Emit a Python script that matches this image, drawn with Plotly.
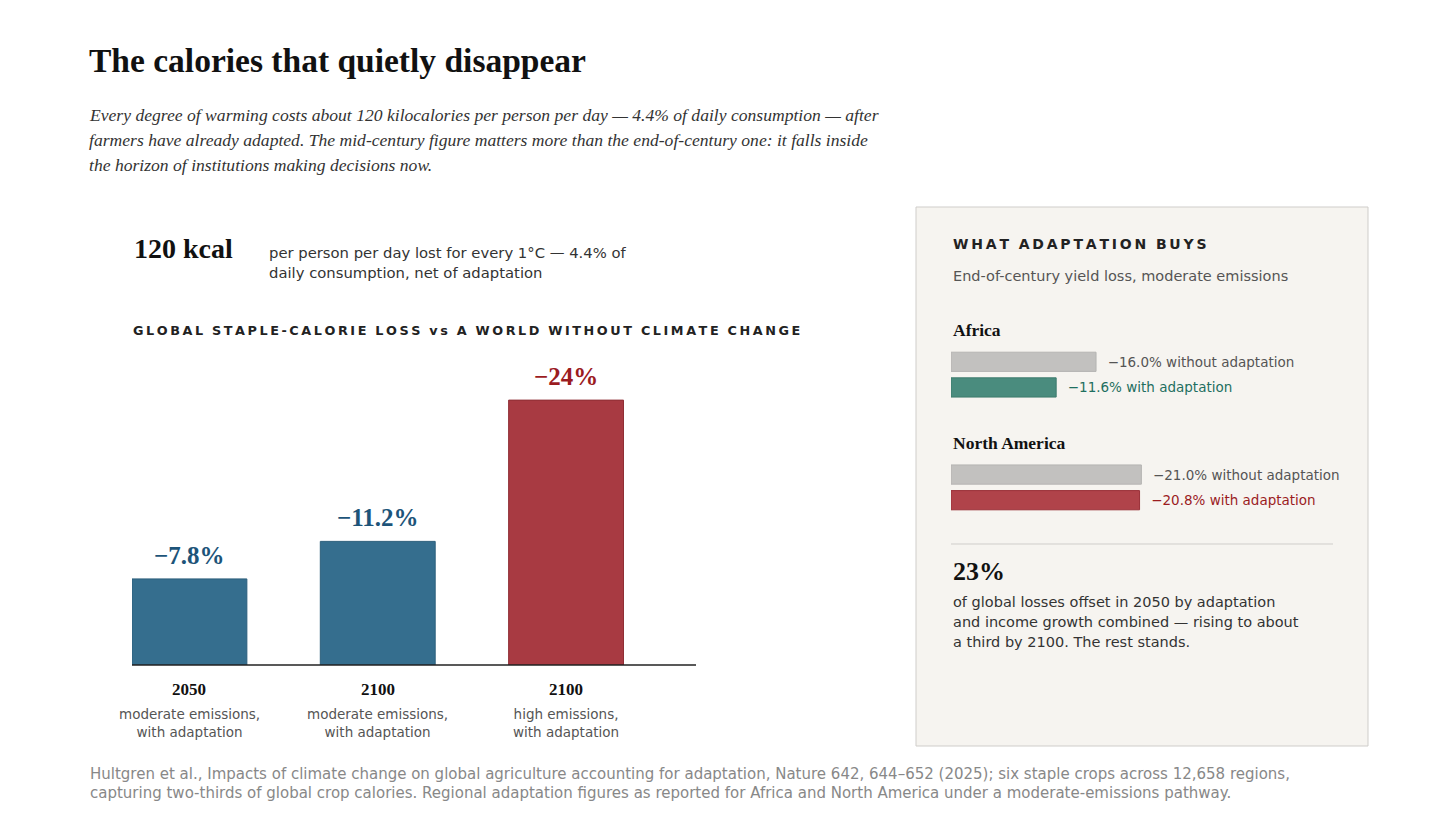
import plotly.graph_objects as go

W, H = 1456, 816
OFF = 8
def px(x): return (x - OFF) / W
def py(y): return 1 - (y - OFF) / H

scenario_years = ["2050", "2100", "2100"]
scenario_desc = ["moderate emissions,<br>with adaptation", "moderate emissions,<br>with adaptation", "high emissions,<br>with adaptation"]
global_loss = [7.8, 11.2, 24]
loss_labels = ["−7.8%", "−11.2%", "−24%"]

region_loss = [16.0, 11.6, 21.0, 20.8]
region_labels = ["−16.0% without adaptation", "−11.6% with adaptation", "−21.0% without adaptation", "−20.8% with adaptation"]
region_rows = [0, 1, 4.4, 5.4]

SERIF = "Liberation Serif, DejaVu Serif, serif"
SANS = "DejaVu Sans, sans-serif"
blue, red = "#356e8e", "#a83a42"
bar_colors = [blue, blue, red]
lab_colors = ["#1d5479", "#1d5479", "#9b1c1f"]

fig = go.Figure()
fig.add_trace(go.Bar(
    x=[0, 1, 2], y=global_loss, width=0.61,
    marker=dict(color=bar_colors, line=dict(color=["#2c5f7c", "#2c5f7c", "#8f2e35"], width=1)),
    xaxis="x", yaxis="y", hoverinfo="skip"))
for i in range(3):
    fig.add_annotation(x=i, y=global_loss[i], xref="x", yref="y", text="<b>" + loss_labels[i] + "</b>", showarrow=False,
                       yanchor="bottom", yshift=8, font=dict(family=SERIF, size=25, color=lab_colors[i]))

fig.add_trace(go.Bar(
    x=region_loss, y=region_rows, orientation="h", width=0.75,
    marker=dict(color=["#c2c1bf", "#4a8c7e", "#c2c1bf", "#b0434a"],
                line=dict(color=["#b5b4b2", "#3d7a6c", "#b5b4b2", "#9a3038"], width=1)),
    text=region_labels, texttemplate="  %{text}", textposition="outside", cliponaxis=False,
    textfont=dict(family=SANS, size=13.5, color=["#555", "#1f6f5f", "#555", "#9b1c1f"]),
    xaxis="x2", yaxis="y2", hoverinfo="skip"))

fig.update_layout(
    width=W, height=H, margin=dict(l=0, r=0, t=0, b=0),
    paper_bgcolor="white", plot_bgcolor="rgba(0,0,0,0)", showlegend=False,
    xaxis=dict(domain=[px(132), px(696)], range=[-0.305, 2.69], showticklabels=False,
               showgrid=False, zeroline=False, showline=False, fixedrange=True),
    yaxis=dict(domain=[py(665), py(367)], range=[0, 27], visible=False, fixedrange=True),
    xaxis2=dict(domain=[px(951), px(1368)], range=[0, 46], visible=False, fixedrange=True),
    yaxis2=dict(domain=[py(513), py(349)], range=[5.9, -0.5], visible=False, fixedrange=True),
)

shapes = [
    dict(type="rect", xref="paper", yref="paper", x0=px(916), x1=px(1368), y0=py(746), y1=py(207),
         fillcolor="#f6f4f0", line=dict(color="#cfcdca", width=1), layer="below"),
    dict(type="line", xref="paper", yref="paper", x0=px(132), x1=px(696), y0=py(665), y1=py(665),
         line=dict(color="#222", width=1.3)),
    dict(type="line", xref="paper", yref="paper", x0=px(951), x1=px(1333), y0=py(544), y1=py(544),
         line=dict(color="#cfcdca", width=1)),
]
fig.update_layout(shapes=shapes)

def T(text, x, y, size, family=SANS, color="#333", xanchor="left", **kw):
    fig.add_annotation(text=text, x=px(x), y=py(y), xref="paper", yref="paper", showarrow=False,
                       xanchor=xanchor, yanchor="middle", align="left",
                       font=dict(family=family, size=size, color=color), **kw)

T("<b>The calories that quietly disappear</b>", 87, 60, 33.5, SERIF, "#111")
for i, line in enumerate([
    "Every degree of warming costs about 120 kilocalories per person per day — 4.4% of daily consumption — after",
    "farmers have already adapted. The mid-century figure matters more than the end-of-century one: it falls inside",
    "the horizon of institutions making decisions now."]):
    T("<i>" + line + "</i>", 87, 115 + 25 * i, 17.6, SERIF, "#333")

T("<b>120 kcal</b>", 132, 248, 28, SERIF, "#111")
T("per person per day lost for every 1°C — 4.4% of", 267, 252, 14.8, SANS, "#333")
T("daily consumption, net of adaptation", 267, 273, 14.8, SANS, "#333")
T("<b>G L O B A L  S T A P L E - C A L O R I E  L O S S  v s  A  W O R L D  W I T H O U T  C L I M A T E  C H A N G E</b>".replace(" ", "\u2009").replace("\u2009\u2009", "  "),
  131, 331, 12.8, SANS, "#222")

for i in range(3):
    fig.add_annotation(text="<b>" + scenario_years[i] + "</b>", x=i, y=py(689), xref="x", yref="paper",
                       showarrow=False, yanchor="middle", font=dict(family=SERIF, size=17, color="#111"))
    fig.add_annotation(text=scenario_desc[i], x=i, y=py(723), xref="x", yref="paper",
                       showarrow=False, yanchor="middle", align="center",
                       font=dict(family=SANS, size=13.5, color="#555"))

T("<b>W H A T  A D A P T A T I O N  B U Y S</b>".replace(" ", "\u2009").replace("\u2009\u2009", "  "), 951, 244, 14, SANS, "#222")
T("End-of-century yield loss, moderate emissions", 951, 276, 14.5, SANS, "#555")
T("<b>Africa</b>", 951, 330, 17.5, SERIF, "#111")
T("<b>North America</b>", 951, 443, 17.5, SERIF, "#111")
T("<b>23%</b>", 951, 571, 26, SERIF, "#111")
for i, line in enumerate(["of global losses offset in 2050 by adaptation",
                          "and income growth combined — rising to about",
                          "a third by 2100. The rest stands."]):
    T(line, 951, 602 + 20 * i, 14.5, SANS, "#333")

T("Hultgren et al., Impacts of climate change on global agriculture accounting for adaptation, Nature 642, 644–652 (2025); six staple crops across 12,658 regions,", 88, 774, 15, SANS, "#888")
T("capturing two-thirds of global crop calories. Regional adaptation figures as reported for Africa and North America under a moderate-emissions pathway.", 88, 793, 15, SANS, "#888")

fig.write_html("out.html")
